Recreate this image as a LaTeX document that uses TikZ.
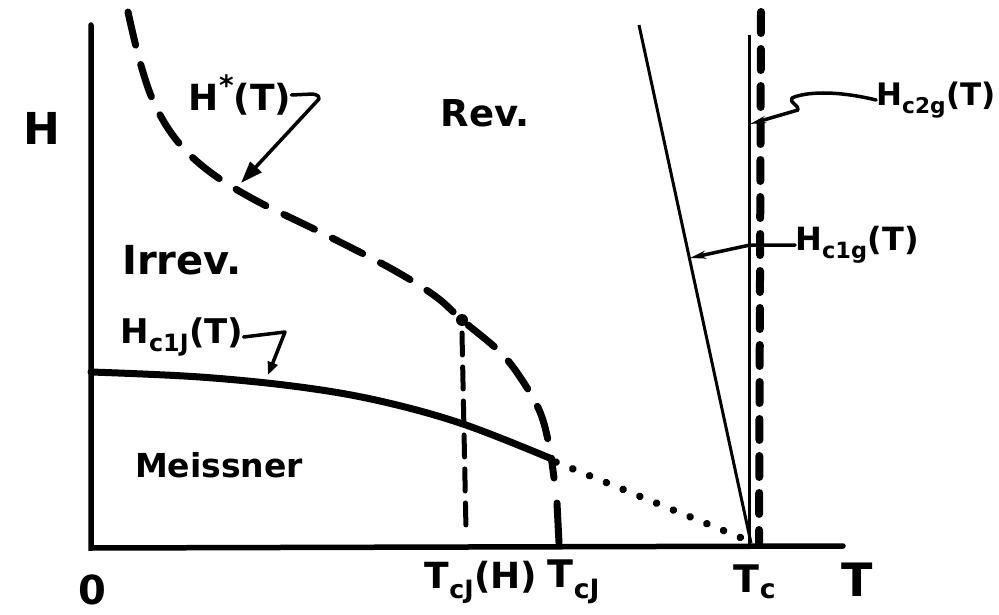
\documentclass[tikz,border=0pt]{standalone}
\usepackage{fontspec}
\setmainfont{DejaVu Sans}
\usepackage{amsmath}
\usetikzlibrary{arrows.meta}
\newcommand{\fsz}[1]{\fontsize{#1}{#1}\selectfont\bfseries}
\begin{document}
\begin{tikzpicture}[x=1pt,y=-1pt,
  axis/.style={line width=5.5pt, line cap=round},
  lbl/.style={inner sep=0pt},
  hstar/.style={line width=7pt, dash pattern=on 34pt off 20pt, line cap=round},
  hcj/.style={line width=7pt, line cap=round},
  dotl/.style={line width=7.5pt, dash pattern=on 0.1pt off 18pt, line cap=round},
  vdash/.style={line width=5pt, dash pattern=on 22pt off 12pt, line cap=round},
  gdash/.style={line width=8pt, dash pattern=on 21pt off 16pt, line cap=round},
  thinl/.style={line width=3pt},
  lead/.style={line width=3.5pt, line cap=round, line join=round}]
\useasboundingbox (0,0) rectangle (999,615);
\fill[white] (0,0) rectangle (999,615);

% axes
\coordinate (O) at (91,548);
\coordinate (Ytop) at (91,25);
\coordinate (Xend) at (843,546);
\draw[axis] (Ytop) -- (O) -- (Xend);

% H*(T) dashed curve
\draw[hstar] plot[smooth, tension=0.6] coordinates {(128,12) (140,62) (155,105) (178,142) (210,172) (255,200) (320,232) (390,268) (435,296) (462,320) (500,352) (522,380) (540,412) (549,445) (554,478)};
\draw[hcj] (557,503) -- (559,543);

% point and vertical dashed line at T_cJ(H)
\coordinate (P) at (462,320);
\coordinate (Pfoot) at (466,530);
\fill (P) circle (6pt);
\draw[vdash] (462,333) -- (Pfoot);

% H_c1J(T) solid curve
\draw[hcj] plot[smooth, tension=0.6] coordinates {(91,372) (200,377) (300,387) (380,401) (463,424) (552,459)};
% dotted continuation
\coordinate (D0) at (556,462);
\coordinate (Tcpt) at (749,541);
\draw[dotl] (D0) -- (Tcpt);

% right-hand lines
\coordinate (S0) at (639,25);
\draw[thinl] (S0) -- (751,543);
\draw[thinl] (749,35) -- (749,546);
\draw[gdash] (761,12) -- (759,545);

% labels
\node[lbl, font=\fsz{44}] (Hlab) at (42,128) {H};
\node[lbl, font=\fsz{40}] (zero) at (92,590) {0};
\node[lbl, font=\fsz{46}] (Tlab) at (857,580) {T};
\node[lbl, font=\fsz{38}] (Tc) at (755,582) {T$_{\text{c}}$};
\node[lbl, font=\fsz{36}] (TcJH) at (481,582) {T$_{\text{cJ}}$(H)};
\node[lbl, font=\fsz{38}] (TcJ) at (574,582) {T$_{\text{cJ}}$};
\node[lbl, font=\fsz{37}] (Rev) at (485,113) {Rev.};
\node[lbl, font=\fsz{40}] (Irrev) at (182,260) {Irrev.};
\node[lbl, font=\fsz{33}] (Meis) at (219,465) {Meissner};
\node[lbl, font=\fsz{36}] (Hstar) at (240,95) {H\raisebox{0.42em}{\fontsize{28}{28}\selectfont*}(T)};
\node[lbl, font=\fsz{34}] (Hc1J) at (182,337) {H$_{\text{c1J}}$(T)};
\node[lbl, font=\fsz{31}] (Hc2g) at (936,100) {H$_{\text{c2g}}$(T)};
\node[lbl, font=\fsz{32}] (Hc1g) at (857,245) {H$_{\text{c1g}}$(T)};

% leaders
\coordinate (hsK) at (319,99);
\coordinate (hsT) at (241,183);
\draw[lead,-{Triangle[length=22pt,width=15pt]}] (Hstar.east) -- (313,94) .. controls (318,95) and (320,97) .. (hsK) -- (hsT);

\coordinate (cjK) at (285,332);
\coordinate (cjT) at (268,375);
\draw[lead,-{Triangle[length=13pt,width=10pt]}] (Hc1J.east) -- (cjK) -- (cjT);

\coordinate (c2T) at (750,124);
\draw[lead,-{Stealth[length=16pt,width=7pt]}] (Hc2g.west) .. controls (835,90) and (805,92) .. (792,98) .. controls (788,102) and (800,106) .. (798,110) -- (c2T);

\coordinate (c1K) at (750,245);
\coordinate (c1T) at (690,258);
\draw[lead,-{Stealth[length=16pt,width=8pt]}] (Hc1g.west) -- (c1K) -- (c1T);
\end{tikzpicture}
\end{document}
